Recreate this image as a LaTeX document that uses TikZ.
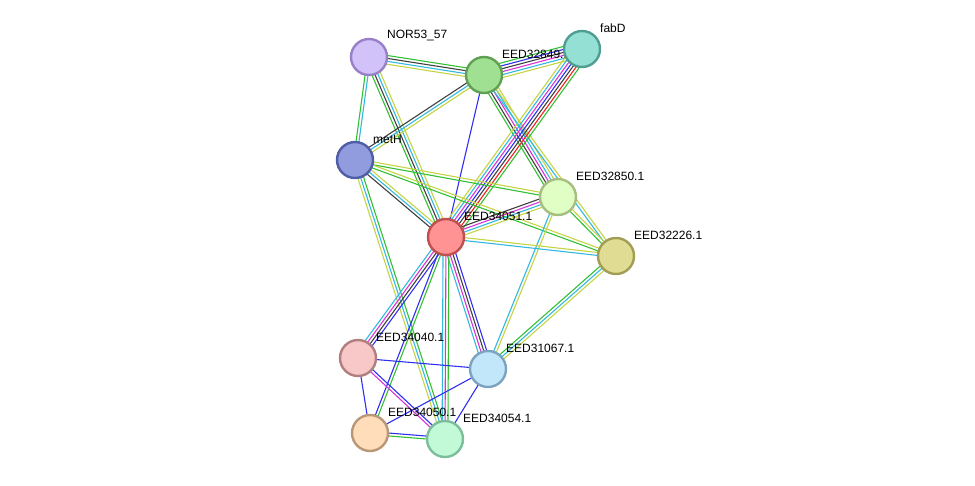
\documentclass[tikz,border=0pt]{standalone}
\usepackage{fontspec}
\setmainfont{Liberation Sans}
\usetikzlibrary{calc}
\definecolor{nbhd}{HTML}{33C033}
\definecolor{fusion}{HTML}{F02020}
\definecolor{cooc}{HTML}{3030F0}
\definecolor{coexp}{HTML}{404040}
\definecolor{expt}{HTML}{D833D8}
\definecolor{dbase}{HTML}{33B8E0}
\definecolor{tmine}{HTML}{C4D444}
\pgfdeclarelayer{background}
\pgfsetlayers{background,main}

% one edge = several parallel coloured lines, one per evidence channel
\newcommand{\link}[3]{%
  \foreach \col [count=\k] in {#3} {\xdef\nlines{\k}}%
  \begin{pgfonlayer}{background}
  \foreach \col [count=\k] in {#3} {%
    \pgfmathsetmacro\off{(\k-(\nlines+1)/2)*2.9}%
    \draw[edge, \col]
      ($(#1.center)!\off pt!90:(#2.center)$) --
      ($(#2.center)!\off pt!-90:(#1.center)$);
  }%
  \end{pgfonlayer}}

\begin{document}
\begin{tikzpicture}[
    x=1pt, y=-1pt,
    prot/.style={circle, line width=2.4pt, minimum size=36pt, inner sep=0pt},
    edge/.style={line width=1.1pt},
    lbl/.style={anchor=west, inner sep=0pt, font=\fontsize{12}{14}\selectfont},
  ]
  \useasboundingbox (0,0) rectangle (975,485);

  % proteins, each with its name
  \node[prot, draw={rgb,255:red,152;green,128;blue,200}, fill={rgb,255:red,210;green,194;blue,250}] (nor) at (369,57) {};
  \node[lbl] (t-nor) at ($(nor)+(18,-21)$) {NOR53\_57};
  \node[prot, draw={rgb,255:red,96;green,160;blue,84}, fill={rgb,255:red,160;green,224;blue,146}] (e32849) at (484,75) {};
  \node[lbl] (t-e32849) at ($(e32849)+(18,-21)$) {EED32849.1};
  \node[prot, draw={rgb,255:red,80;green,158;blue,146}, fill={rgb,255:red,148;green,224;blue,212}] (fabd) at (582,49) {};
  \node[lbl] (t-fabd) at ($(fabd)+(18,-21)$) {fabD};
  \node[prot, draw={rgb,255:red,80;green,94;blue,168}, fill={rgb,255:red,144;green,156;blue,222}] (meth) at (355,160) {};
  \node[lbl] (t-meth) at ($(meth)+(18,-21)$) {metH};
  \node[prot, draw={rgb,255:red,166;green,190;blue,128}, fill={rgb,255:red,224;green,255;blue,196}] (e32850) at (558,197) {};
  \node[lbl] (t-e32850) at ($(e32850)+(18,-21)$) {EED32850.1};
  \node[prot, draw={rgb,255:red,192;green,80;blue,80}, fill={rgb,255:red,255;green,146;blue,146}] (e34051) at (446,237) {};
  \node[lbl] (t-e34051) at ($(e34051)+(18,-21)$) {EED34051.1};
  \node[prot, draw={rgb,255:red,160;green,158;blue,84}, fill={rgb,255:red,224;green,220;blue,148}] (e32226) at (616,256) {};
  \node[lbl] (t-e32226) at ($(e32226)+(18,-21)$) {EED32226.1};
  \node[prot, draw={rgb,255:red,176;green,128;blue,128}, fill={rgb,255:red,248;green,200;blue,200}] (e34040) at (358,358) {};
  \node[lbl] (t-e34040) at ($(e34040)+(18,-21)$) {EED34040.1};
  \node[prot, draw={rgb,255:red,124;green,164;blue,192}, fill={rgb,255:red,194;green,230;blue,250}] (e31067) at (488,369) {};
  \node[lbl] (t-e31067) at ($(e31067)+(18,-21)$) {EED31067.1};
  \node[prot, draw={rgb,255:red,184;green,152;blue,120}, fill={rgb,255:red,255;green,220;blue,186}] (e34050) at (370,433) {};
  \node[lbl] (t-e34050) at ($(e34050)+(18,-21)$) {EED34050.1};
  \node[prot, draw={rgb,255:red,124;green,190;blue,156}, fill={rgb,255:red,194;green,250;blue,216}] (e34054) at (445,439) {};
  \node[lbl] (t-e34054) at ($(e34054)+(18,-21)$) {EED34054.1};

  % associations
  \link{nor}{e32849}{tmine,dbase,coexp,nbhd}
  \link{nor}{meth}{nbhd,dbase}
  \link{nor}{e34051}{nbhd,coexp,dbase,tmine}
  \link{e32849}{fabd}{tmine,dbase,expt,coexp,cooc,nbhd}
  \link{e32849}{meth}{coexp,dbase,tmine}
  \link{e32849}{e34051}{cooc}
  \link{e32849}{e32850}{nbhd,coexp,expt,dbase,tmine}
  \link{e32849}{e32226}{dbase,tmine}
  \link{fabd}{e34051}{tmine,dbase,expt,cooc,coexp,fusion,nbhd}
  \link{meth}{e32850}{nbhd,tmine}
  \link{meth}{e32226}{nbhd,tmine}
  \link{meth}{e34051}{coexp,dbase,tmine}
  \link{meth}{e34054}{tmine,dbase,nbhd}
  \link{e32850}{e34051}{coexp,expt,dbase,tmine}
  \link{e32850}{e32226}{nbhd,tmine}
  \link{e32850}{e31067}{dbase,tmine}
  \link{e34051}{e32226}{dbase,tmine}
  \link{e34051}{e34040}{dbase,expt,coexp,cooc}
  \link{e34051}{e31067}{dbase,expt,coexp,cooc}
  \link{e34051}{e34050}{cooc,nbhd}
  \link{e34051}{e34054}{dbase,expt,nbhd}
  \link{e32226}{e31067}{nbhd,dbase,tmine}
  \link{e34040}{e31067}{cooc}
  \link{e34040}{e34050}{cooc}
  \link{e34040}{e34054}{expt,cooc}
  \link{e31067}{e34050}{cooc}
  \link{e31067}{e34054}{cooc}
  \link{e34050}{e34054}{nbhd,cooc}
\end{tikzpicture}
\end{document}
